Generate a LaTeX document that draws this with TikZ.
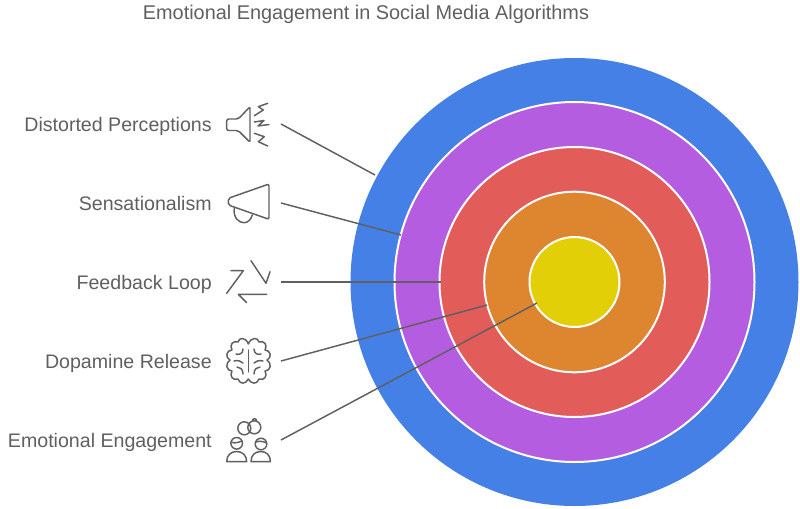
\documentclass[tikz,border=0pt]{standalone}
\usepackage{fontspec}
\setmainfont{Liberation Sans}
\definecolor{ink}{HTML}{606060}
\definecolor{cblue}{HTML}{4480E6}
\definecolor{cpurple}{HTML}{B55DE0}
\definecolor{cred}{HTML}{E25C5A}
\definecolor{corange}{HTML}{DE8530}
\definecolor{cyellow}{HTML}{E3CF07}
\tikzset{
 ring/.style={draw=white,line width=1.5},
 lab/.style={anchor=base east,text=ink,font=\fontsize{14.7}{16}\selectfont,inner sep=0pt},
 conn/.style={draw=ink,line width=1.1},
 icon/.style={draw=ink,line width=1.1,line join=round,line cap=round},
}
\begin{document}
\begin{tikzpicture}[x=0.75pt,y=-0.75pt]
\useasboundingbox (0,0) rectangle (800,508);
\fill[white] (0,0) rectangle (800,508);
\node[text=ink,font=\fontsize{14.9}{16}\selectfont,inner sep=0pt] (title) at (366,14.5) {Emotional Engagement in Social Media Algorithms};
\path[fill=cblue] (574.5,282) circle[radius=224];
\path[ring,fill=cpurple] (574.5,282) circle[radius=180];
\path[ring,fill=cred] (574.5,282) circle[radius=135];
\path[ring,fill=corange] (574.5,282) circle[radius=90.3];
\path[ring,fill=cyellow] (574.5,282) circle[radius=45];
\node[lab] (l1) at (212,131) {Distorted Perceptions};
\node[lab] (l2) at (212,210) {Sensationalism};
\node[lab] (l3) at (212,289) {Feedback Loop};
\node[lab] (l4) at (212,368) {Dopamine Release};
\node[lab] (l5) at (212,447) {Emotional Engagement};
\coordinate (s1) at (281,124); \coordinate (e1) at (375,175);
\coordinate (s2) at (281,203); \coordinate (e2) at (401,235);
\coordinate (s3) at (281,282); \coordinate (e3) at (441,282);
\coordinate (s4) at (281,361); \coordinate (e4) at (487,305);
\coordinate (s5) at (281,440); \coordinate (e5) at (537,303);
\foreach \i in {1,...,5} {\draw[conn] (s\i) -- (e\i);}
% speaker
\draw[icon,rounded corners=1.5] (250,106.7) -- (238.3,119) -- (226.7,119) -- (226.7,130.5) -- (238.3,130.5) -- (250,142.3) -- cycle;
\draw[icon] (267.7,103.3) -- (258.3,106.7) -- (263.3,110) -- (254.3,115.7);
\draw[icon] (254.3,122) -- (264,120.5) -- (258,126) -- (269,124.5);
\draw[icon] (254.3,133.3) -- (264.3,136.7) -- (258.3,141.7) -- (267.7,146);
% megaphone
\draw[icon,rounded corners=1.5] (269,184) -- (228.3,198.3) -- (228.3,205) -- (269,219.3) -- cycle;
\draw[icon] (234.3,208.3) .. controls (233,218) and (239,222.7) .. (244,222.7) .. controls (248,222.7) and (251,219.5) .. (252.3,215);
% loop
\draw[icon] (251,260.7) -- (266,283.3) -- (270,271.7);
\draw[icon] (226.7,293.3) -- (243.3,270.7) -- (231,270.7);
\draw[icon] (266.7,294.3) -- (238.3,294.3) -- (246.7,302.7);
% brain
\draw[icon] (248.3,344) .. controls (246,337) and (239,337) .. (238,342)
 .. controls (233,340) and (229,345) .. (232,350)
 .. controls (226,350) and (225,358) .. (230,360)
 .. controls (225,363) and (226,371) .. (232,371)
 .. controls (229,376) and (233,381) .. (238,379)
 .. controls (240,385) and (246,384) .. (248.3,379)
 .. controls (251,384) and (257,385) .. (259,379)
 .. controls (264,381) and (268,376) .. (265,371)
 .. controls (271,371) and (272,363) .. (267,360)
 .. controls (272,358) and (271,350) .. (265,350)
 .. controls (268,345) and (264,340) .. (259,342)
 .. controls (258,337) and (251,337) .. (248.3,344);
\draw[icon] (248.3,350) -- (248.3,372);
\draw[icon] (243,349) .. controls (243,354) and (239,355) .. (236,354);
\draw[icon] (254,349) .. controls (254,354) and (258,355) .. (261,354);
\draw[icon] (243,374) .. controls (243,369) and (240,367) .. (237,367);
\draw[icon] (254,374) .. controls (254,369) and (257,367) .. (260,367);
\draw[icon] (234,361) .. controls (238,360) and (241,361) .. (243,363);
\draw[icon] (263,361) .. controls (259,360) and (256,361) .. (254,363);
% people
\draw[icon] (244.3,428.3) circle[radius=6.5];
\draw[icon] (254.3,427.3) circle[radius=6.5];
\draw[icon] (252.5,420.8) .. controls (252.5,418) and (256.5,418) .. (256.5,420.8);
\draw[icon] (236.7,443.3) circle[radius=5.8];
\draw[icon] (231,442) .. controls (235,444) and (239,442) .. (242,441);
\draw[icon] (226.7,461.7) .. controls (226.7,455) and (231,451.5) .. (236.7,451.5) .. controls (242,451.5) and (246.7,455) .. (246.7,461.7) -- cycle;
\draw[icon] (261,444) circle[radius=5.8];
\draw[icon] (255.5,442) .. controls (259,441) and (263,441) .. (266.5,443);
\draw[icon] (251,461.7) .. controls (251,455) and (255,451.5) .. (261,451.5) .. controls (266,451.5) and (270.5,455) .. (270.5,461.7) -- cycle;
\end{tikzpicture}
\end{document}
